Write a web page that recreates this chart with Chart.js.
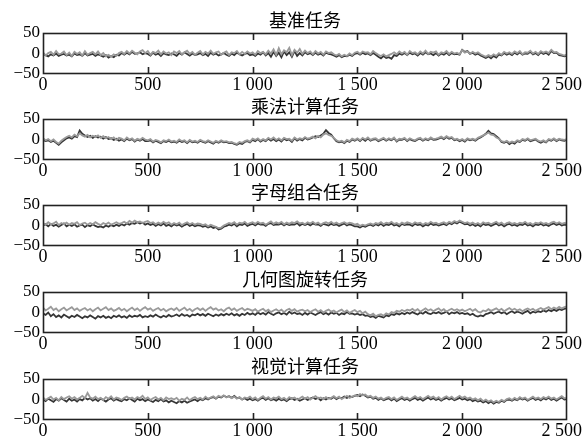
<!DOCTYPE html>
<html><head><meta charset="utf-8">
<script src="https://cdn.jsdelivr.net/npm/chart.js@4/dist/chart.umd.min.js"></script>
<style>
html,body{margin:0;padding:0;background:#fff;overflow:hidden;width:584px;height:443px;position:relative;}
canvas{position:absolute;left:0;}
</style></head><body>
<canvas id="c0" width="584" height="94"></canvas>
<canvas id="c1" width="584" height="94"></canvas>
<canvas id="c2" width="584" height="94"></canvas>
<canvas id="c3" width="584" height="94"></canvas>
<canvas id="c4" width="584" height="94"></canvas>
<script>
// ---- data ----
const panelTitles = ['基准任务', '乘法计算任务', '字母组合任务', '几何图旋转任务', '视觉计算任务'];
const sampleStep = 12.5; // samples between stored values
const xTicks = [0, 500, 1000, 1500, 2000, 2500];
const yTicks = [-50, 0, 50];

const light1 = [3,-5,1,4,-3,6,-2,0,5,-4, 2,-6,4,-1,3,-5,6,-3,1,4, -2,5,-4,1,-7,-3,-8,-2,-6,1, 4,-1,6,0,7,2,-2,5,8,1, 6,-3,4,1,7,-2,5,0,3,-4, 5,1,6,-2,3,7,-1,4,-3,2, 6,-2,4,0,7,-1,3,5,-3,2, 5,-4,3,1,6,-2,4,-1,5,0, 3,-3,6,1,4,-2,7,0,10,-3, 13,-2,8,3,14,-4,9,2,11,-1, 7,1,5,-2,6,0,4,-3,5,1, 3,-2,-5,-1,-7,-3,-6,0,-4,2, 4,-1,5,2,3,-2,6,1,-3,-6, -2,-7,-4,-1,3,-2,5,0,4,-3, 6,1,3,-2,5,0,7,-1,4,2, 5,-3,3,1,6,-1,4,0,2,-2, 8,2,5,-1,4,0,3,-2,-5,-8, -4,-7,-2,-6,1,-3,4,0,3,-1, 5,1,6,-2,3,2,7,0,4,-1, 6,2,5,1,9,3,4,-1,-3,-5, -2];
const dark1 = [-1,-4,-7,-2,-5,0,-6,-3,-1,-5, -3,-7,0,-4,-2,-6,1,-5,-3,-1, -6,-2,-5,-8,-4,-10,-6,-9,-3,-5, 1,-3,2,-2,4,-1,0,3,-2,1, -1,-5,2,-3,0,-6,1,-2,-4,0, -2,-6,1,-3,3,-1,-5,0,-4,-2, 1,-4,-1,-6,2,-3,0,-5,-2,1, -3,-6,0,-4,2,-2,-5,-1,1,-4, -2,-6,0,-3,3,-5,1,-8,4,-6, 2,-9,5,-4,3,-8,6,-6,1,-5, 3,-2,1,-4,2,-3,0,-5,2,-1, -2,-5,-8,-4,-9,-6,-7,-3,-6,-1, 1,-3,2,-2,0,-4,1,-3,-8,-12, -6,-11,-9,-13,-4,-6,0,-3,1,-4, 2,-2,0,-5,1,-3,3,-2,0,-4, 1,-5,0,-3,2,-4,1,-2,-1,-3, 9,4,6,-1,2,-3,0,-5,-8,-11, -7,-12,-6,-10,-2,-5,1,-3,0,-4, 2,-2,3,-3,0,-1,4,-2,1,-4, 3,-1,2,-3,6,1,2,-4,-5,-7, -5];

const light2 = [3,-2,1,-4,0,-6,-10,-3,2,6, 9,5,12,8,15,10,7,11,5,9, 6,10,4,8,3,6,1,5,-1,4, 2,-2,5,0,3,-3,2,-1,4,0, -2,1,-5,-1,-3,-7,-2,-4,0,-5, -3,-6,0,-4,-2,-7,-1,-5,-3,-6, -1,-4,-6,-2,-5,-8,-3,-6,-2,-5, -4,-7,-6,-9,-11,-6,-8,-4,-2,-5, 2,-1,3,-3,1,-2,4,0,5,-1, 3,-2,4,1,2,-3,5,0,3,1, 6,2,4,7,3,9,5,12,15,11, 9,4,-2,-5,-3,-7,-1,-4,2,-1, 3,-2,4,0,5,-1,2,3,-2,1, 4,-1,3,0,5,-3,2,1,4,-2, 3,0,-2,2,4,-1,3,0,5,1, 2,4,7,3,8,4,6,0,2,-2, 1,-3,3,0,2,-1,4,7,10,13, 17,12,11,5,2,-4,-6,-3,-8,-5, -7,-2,-4,1,-1,3,-2,0,2,-3, -5,-2,-6,1,-1,3,-2,2,0,-1, 1];
const dark2 = [-1,-4,-2,-6,-3,-8,-13,-7,-2,3, 5,2,8,6,22,14,10,6,9,4, 8,5,7,2,6,1,3,-1,2,-3, 0,-4,2,-2,1,-5,0,-3,1,-4, -4,-2,-7,-3,-6,-9,-4,-6,-3,-7, -5,-8,-3,-6,-4,-9,-3,-7,-5,-8, -3,-6,-8,-4,-7,-10,-5,-8,-4,-7, -6,-9,-8,-11,-13,-9,-11,-6,-4,-7, -1,-4,1,-5,-1,-4,2,-3,1,-4, 0,-5,2,-2,0,-6,3,-3,1,-2, 4,0,2,5,8,6,10,14,23,16, 12,3,-4,-7,-5,-9,-3,-6,0,-3, 1,-4,2,-3,3,-3,0,1,-4,-1, 2,-3,1,-2,3,-5,0,-1,2,-4, 1,-2,-4,0,2,-3,1,-2,3,-1, 0,2,5,1,6,2,4,-2,0,-4, -1,-5,1,-2,0,-3,2,5,9,14, 21,15,13,8,3,-6,-8,-5,-11,-7, -10,-4,-6,-1,-3,1,-4,-2,0,-5, -8,-4,-7,-1,-3,1,-4,0,-2,-3, -1];

const light3 = [6,2,8,3,5,9,1,6,3,7, 2,6,4,8,1,5,7,2,6,3, 8,4,1,6,3,7,2,5,8,4, 6,9,5,11,7,12,8,10,6,9, 11,6,8,3,7,4,9,5,8,2, 6,3,7,1,5,8,3,6,2,5, 4,1,3,-2,2,-1,-3,-6,-5,0, 3,6,4,8,2,7,5,9,3,6, 8,4,9,5,7,2,6,10,4,8, 5,9,3,7,4,8,6,10,5,7, 3,8,5,9,4,7,2,6,8,5, 9,4,7,3,6,8,4,7,5,2, 4,-1,2,0,3,5,2,6,4,8, 3,7,5,9,4,6,2,7,4,8, 6,3,8,5,7,2,6,4,9,5, 7,3,6,8,4,9,6,11,8,12, 9,6,8,4,7,3,6,2,8,5, 7,3,6,9,4,7,2,6,8,4, 6,3,7,5,9,4,6,2,7,5, 8,4,6,3,7,9,5,8,4,6, 5];
const dark3 = [0,3,-2,4,-1,2,-3,1,5,-2, 2,-1,3,-3,0,2,-4,1,-2,3, -1,-4,-2,-5,0,-3,1,-2,2,-1, 3,0,5,2,6,4,8,5,7,2, 5,1,4,-1,3,0,5,-1,2,-2, 3,0,2,-3,1,4,-1,2,-2,1, 0,-3,-1,-5,-2,-6,-4,-10,-8,-3, -1,2,0,4,-2,3,1,5,-1,2, 4,0,5,2,3,-1,4,6,1,3, 2,5,0,4,1,3,2,6,0,4, 1,4,0,5,2,3,-1,4,2,0, 4,1,3,-1,2,5,0,3,1,-2, -2,-5,-1,-3,0,2,-1,3,0,4, -1,3,1,5,0,2,-2,4,1,3, 2,-1,4,1,3,-2,2,0,5,1, 3,0,2,4,1,6,3,8,5,9, 6,3,4,0,3,-1,2,-2,4,1, 3,-1,2,5,0,3,-2,2,4,0, 2,-1,3,1,5,0,2,-2,3,1, 4,0,2,-1,3,5,1,4,0,2, 1];

const light4 = [12,5,9,14,6,10,3,8,12,5, 9,13,6,10,4,8,11,5,9,3, 8,12,5,9,13,6,10,4,7,11, 5,9,3,8,12,6,10,4,9,13, 7,10,4,8,11,5,9,3,7,10, 6,11,4,8,12,5,9,3,8,11, 6,10,4,9,13,7,10,5,8,3, 9,12,6,10,4,8,11,5,9,7, 4,8,2,6,9,3,7,1,5,8, 3,7,1,6,9,4,8,2,5,7, 3,6,1,5,8,2,6,0,4,7, 2,5,0,4,7,1,5,-1,3,6, 1,4,-2,2,-4,-7,-3,-9,-6,-4, -8,-2,-5,1,-1,4,2,6,3,7, 5,9,4,8,2,6,10,5,8,3, 7,10,4,8,2,6,9,5,8,4, 7,3,6,9,4,8,2,0,5,3, 8,4,7,10,5,9,3,7,11,6, 9,5,8,3,7,10,6,9,4,8, 11,7,10,13,8,12,9,14,10,13, 15];
const dark4 = [-2,-6,0,-9,-4,-11,-7,-12,-5,-9, -13,-8,-11,-6,-10,-14,-9,-12,-7,-11, -15,-9,-12,-8,-13,-10,-14,-8,-11,-7, -12,-9,-13,-7,-11,-8,-10,-6,-12,-9, -11,-7,-10,-5,-9,-12,-8,-11,-6,-10, -8,-5,-9,-4,-8,-6,-10,-5,-7,-3, -7,-4,-8,-3,-6,-9,-5,-8,-4,-7, -3,-6,-2,-7,-4,-8,-3,-6,-1,-5, -2,-6,0,-4,-1,-5,1,-3,-6,-2, 0,-4,-1,-5,2,-3,0,-4,-2,-6, -1,-5,0,-3,-6,-2,1,-4,-1,-5, 0,-3,-1,-6,-2,-4,1,-3,-2,-5, -3,-6,-4,-8,-7,-11,-9,-13,-8,-10, -12,-7,-9,-4,-6,-2,-5,-1,-4,0, -3,1,-2,-5,0,-3,2,-2,-4,0, -2,1,-3,-1,2,-4,0,-2,1,-3, -1,-4,-2,-6,-3,-8,-10,-7,-9,-4, -2,1,-3,0,2,-2,1,-4,0,3, -1,2,0,-3,1,4,-2,2,0,3, 1,5,2,6,3,7,4,8,6,9, 11];

const light5 = [5,-1,3,7,0,4,-2,6,1,5, 8,2,6,0,4,9,3,16,5,2, 7,1,4,-1,6,2,8,0,5,3, -1,4,7,2,5,0,6,3,9,1, 5,-1,3,6,0,4,-2,5,1,3, 0,4,-3,2,-1,5,-2,3,6,1, 4,0,7,2,5,8,3,9,6,10, 5,8,3,7,2,6,0,5,3,7, 1,5,-1,4,8,2,6,0,5,3, 7,1,4,-1,6,2,5,0,3,7, 2,6,0,4,8,3,5,1,6,2, 4,8,3,7,1,5,9,4,7,10, 8,13,10,12,7,9,4,7,2,5, 0,4,6,1,5,-1,3,7,2,5, 0,4,8,3,6,1,5,9,4,7, 2,6,0,5,8,3,7,1,5,9, 4,7,2,5,0,3,-2,2,-4,0, -5,-2,-7,-3,-6,-1,-4,1,3,-1, 4,0,6,2,5,-1,3,7,2,5, 1,6,3,7,2,5,0,4,8,3, 4];
const dark5 = [0,-4,2,-2,-6,1,-3,3,-1,-5, 2,-3,0,-5,1,-2,4,0,3,-3, 1,-4,2,-1,-5,0,3,-3,1,-2, -4,1,-2,3,-1,-5,2,-2,1,-4, 0,-3,-6,-1,-4,1,-5,-2,-7,-3, -6,-9,-4,-7,-3,-8,-5,-2,0,-4, 1,-2,3,0,4,6,2,7,5,9, 6,8,4,9,3,5,0,3,-1,2, -2,1,-3,2,4,-1,3,-2,1,-3, 2,-2,0,-4,1,3,-1,2,-3,0, 3,-1,2,5,1,4,-2,3,0,4, 2,6,1,5,3,7,4,8,6,9, 11,8,12,9,5,7,2,4,-1,3, -2,1,3,-2,2,-4,0,3,-1,2, -3,1,4,-1,2,-3,1,5,0,3, -1,2,-3,1,4,0,3,-2,1,4, 0,2,-2,1,-4,-1,-5,-3,-7,-4, -9,-5,-10,-6,-8,-3,-6,-1,0,-3, 1,-2,3,0,2,-3,1,4,-1,2, -2,3,0,4,-1,2,-3,1,5,0, 1];

const lightSeries = [light1, light2, light3, light4, light5];
const darkSeries = [dark1, dark2, dark3, dark4, dark5];

// ---- layout / style ----
const plotTops = [33, 119, 205, 292, 379];
const TOP_PAD = 30, LEFT_W = 43, RIGHT_PAD = 17, XAXIS_H = 23;
const numFamily = '"Liberation Serif", "DejaVu Serif", serif';
const numFont = {family: numFamily, size: 17};

function fmtX(v){ return v >= 1000 ? String(v).replace(/(\d)(\d{3})$/, '$1 $2') : String(v); }
function fmtY(v){ return v < 0 ? '\u2212' + Math.abs(v) : String(v); }
function toPts(arr){ return arr.map((v,i)=>({x: i*sampleStep, y: v})); }

const framePlugin = {
  id: 'frame',
  afterDraw(chart, args, opts){
    const {ctx, chartArea: a, scales} = chart;
    const W = chart.width;
    ctx.save();
    ctx.strokeStyle = '#222'; ctx.lineWidth = 1.6;
    ctx.strokeRect(a.left + 0.5, a.top + 0.5, a.right - a.left - 1, a.bottom - a.top - 1);
    ctx.beginPath();
    xTicks.slice(1, -1).forEach(v => {
      const x = Math.round(scales.x.getPixelForValue(v)) + 0.5;
      ctx.moveTo(x, a.top); ctx.lineTo(x, a.top + 7);
      ctx.moveTo(x, a.bottom); ctx.lineTo(x, a.bottom - 7);
    });
    ctx.stroke();
    // x tick labels (kept inside the page at the right edge)
    ctx.fillStyle = '#000';
    ctx.font = '18px ' + numFamily;
    ctx.textBaseline = 'top'; ctx.textAlign = 'left';
    xTicks.forEach(v => {
      const s = fmtX(v);
      const w = ctx.measureText(s).width;
      let x = scales.x.getPixelForValue(v) - w / 2;
      if (x + w > W - 2) x = W - 2 - w;
      ctx.fillText(s, x, a.bottom + 2);
    });
    // panel title
    ctx.font = '18px "Noto Sans CJK SC", sans-serif';
    ctx.textAlign = 'center'; ctx.textBaseline = 'middle';
    ctx.fillText(opts.text, (a.left + a.right) / 2, a.top - 13);
    ctx.restore();
  }
};

panelTitles.forEach((title, p) => {
  const cv = document.getElementById('c' + p);
  cv.style.top = (plotTops[p] - TOP_PAD) + 'px';
  new Chart(cv, {
    type: 'line',
    data: {
      datasets: [
        {label: 'dark', data: toPts(darkSeries[p]), borderColor: '#353535', borderWidth: 1.8, order: 1},
        {label: 'light', data: toPts(lightSeries[p]), borderColor: '#9a9a9a', borderWidth: 1.8, order: 0}
      ]
    },
    options: {
      responsive: false, animation: false, devicePixelRatio: 1,
      layout: {padding: {top: TOP_PAD, left: 0, right: RIGHT_PAD, bottom: 0}},
      elements: {point: {radius: 0}, line: {tension: 0}},
      plugins: {legend: {display: false}, tooltip: {enabled: false}, frame: {text: title}},
      scales: {
        x: {
          type: 'linear', min: 0, max: 2500,
          afterBuildTicks: s => { s.ticks = xTicks.map(v => ({value: v})); },
          ticks: {display: false, callback: fmtX},
          grid: {display: false, drawTicks: false}, border: {display: false},
          afterFit: s => { s.height = XAXIS_H; s.paddingLeft = 0; s.paddingRight = 0; }
        },
        y: {
          min: -50, max: 50,
          afterBuildTicks: s => { s.ticks = yTicks.map(v => ({value: v})); },
          ticks: {callback: fmtY, font: numFont, color: '#000', padding: 3, autoSkip: false},
          grid: {display: false, drawTicks: false}, border: {display: false},
          afterFit: s => { s.width = LEFT_W; s.paddingTop = 0; s.paddingBottom = 0; }
        }
      }
    },
    plugins: [framePlugin]
  });
});
</script>
</body></html>
